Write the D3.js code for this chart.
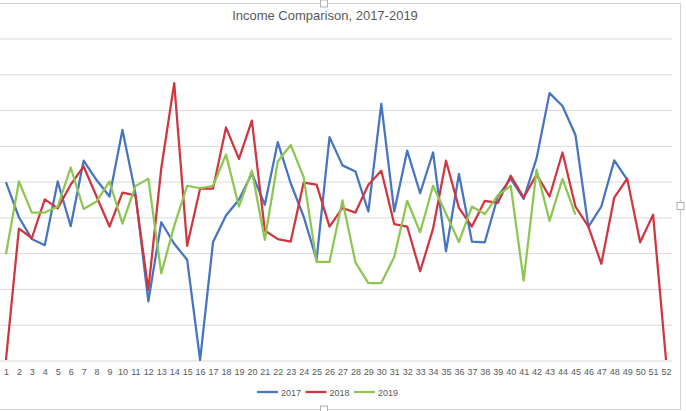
<!DOCTYPE html>
<html>
<head>
<meta charset="utf-8">
<script src="https://cdn.jsdelivr.net/npm/d3@7"></script>
<style>
  body { margin: 0; background: #fff; }
  svg { display: block; font-family: "Liberation Sans", Arial, sans-serif; }
  .grid line { stroke: #d9d9d9; stroke-width: 1; }
  .grid path { display: none; }
  .xaxis path { display: none; }
  .xaxis text { fill: #595959; font-size: 9px; }
  .series { fill: none; stroke-width: 2.25; stroke-linejoin: round; }
</style>
</head>
<body>
<div id="chart"></div>
<script>
// ── Data ──────────────────────────────────────────────────────────────────
const weeks = d3.range(1, 53);
const years = ["2017", "2018", "2019"];

const income2017 = [2485, 1995, 1690, 1605, 2495, 1870, 2785, 2515, 2285, 3215,
  2330, 820, 1925, 1625, 1400, 0, 1650, 2020, 2240, 2610,
  2170, 3045, 2470, 2005, 1400, 3115, 2720, 2635, 2075, 3580,
  2075, 2925, 2330, 2900, 1520, 2600, 1655, 1645, 2285, 2535,
  2250, 2820, 3730, 3550, 3145, 1860, 2145, 2790, 2520];

const income2018 = [0, 1835, 1705, 2245, 2120, 2450, 2705, 2285, 1865, 2340,
  2300, 980, 2680, 3870, 1595, 2395, 2395, 3250, 2810, 3345,
  1810, 1690, 1655, 2480, 2450, 1865, 2125, 2060, 2450, 2645,
  1900, 1865, 1240, 1835, 2785, 2125, 1865, 2225, 2195, 2575,
  2270, 2590, 2285, 2900, 2145, 1865, 1345, 2270, 2535, 1645,
  2030, 0];

const income2019 = [1480, 2495, 2060, 2060, 2145, 2690, 2110, 2215, 2495, 1905,
  2430, 2535, 1210, 1875, 2435, 2400, 2435, 2870, 2145, 2645,
  1680, 2775, 3005, 2555, 1370, 1370, 2230, 1365, 1075, 1075,
  1440, 2225, 1785, 2435, 2045, 1650, 2145, 2040, 2300, 2435,
  1110, 2660, 1945, 2530, 2030];

const yTicks = d3.range(0, 4501, 500);
const colors = ["#4674c1", "#d1353f", "#8dc652"];

// ── Layout ────────────────────────────────────────────────────────────────
const width = 686, height = 411;
const plot = { left: -0.5, right: 672.5, top: 38, bottom: 360 };

const svg = d3.select("#chart").append("svg")
  .attr("width", width)
  .attr("height", height);

// chart frame (left edge is cropped off)
svg.append("path")
  .attr("d", `M0,3.5H680.5V409.5H0`)
  .attr("fill", "none")
  .attr("stroke", "#d0d0d0");
[[324, 3.5], [324, 409.5], [680.5, 206]].forEach(([cx, cy]) => {
  svg.append("rect")
    .attr("x", cx - 3.5).attr("y", cy - 3.5)
    .attr("width", 7).attr("height", 7)
    .attr("fill", "#fff").attr("stroke", "#b0b0b0");
});

// title
svg.append("text")
  .attr("x", 325).attr("y", 20)
  .attr("text-anchor", "middle")
  .attr("fill", "#595959")
  .attr("font-size", 13)
  .text("Income Comparison, 2017-2019");

// ── Scales ────────────────────────────────────────────────────────────────
const x = d3.scalePoint()
  .domain(weeks)
  .range([plot.left, plot.right])
  .padding(0.5);

const y = d3.scaleLinear()
  .domain([0, 4500])
  .range([plot.bottom, plot.top]);

// ── Grid ──────────────────────────────────────────────────────────────────
svg.append("g").attr("class", "grid")
  .attr("transform", `translate(0,0)`)
  .call(d3.axisLeft(y).tickValues(yTicks).tickSize(-(plot.right))
    .tickFormat(""))
  .call(g => g.selectAll("line").attr("x1", plot.right).attr("x2", 0)
    .attr("transform", "translate(0,0.5)"));

// ── X axis ────────────────────────────────────────────────────────────────
svg.append("g").attr("class", "xaxis")
  .attr("transform", `translate(0,${plot.bottom})`)
  .call(d3.axisBottom(x).tickSize(0).tickPadding(9));

// ── Lines ─────────────────────────────────────────────────────────────────
const line = d3.line()
  .x((d, i) => x(weeks[i]))
  .y(d => y(d));

[income2017, income2018, income2019].forEach((series, k) => {
  svg.append("path")
    .attr("class", "series")
    .attr("stroke", colors[k])
    .attr("d", line(series));
});

// ── Legend ────────────────────────────────────────────────────────────────
const legend = svg.append("g").attr("transform", "translate(257,392)");
years.forEach((yr, k) => {
  const gx = k * 48.5;
  legend.append("line")
    .attr("x1", gx).attr("x2", gx + 21)
    .attr("y1", 0).attr("y2", 0)
    .attr("stroke", colors[k]).attr("stroke-width", 2.25);
  legend.append("text")
    .attr("x", gx + 24).attr("y", 3.5)
    .attr("fill", "#595959").attr("font-size", 9)
    .text(yr);
});
</script>
</body>
</html>
